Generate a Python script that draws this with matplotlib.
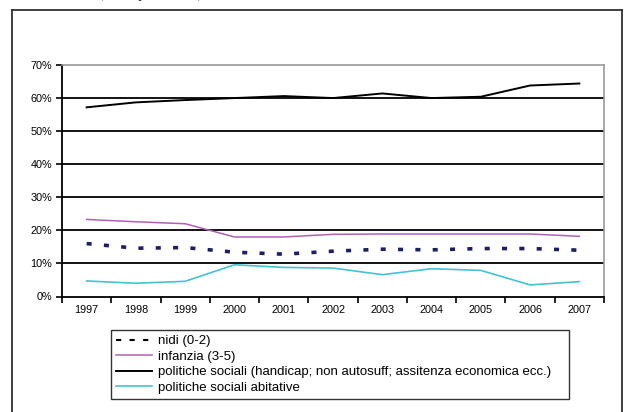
import matplotlib.pyplot as plt
from matplotlib.lines import Line2D
import numpy as np

plt.rcParams["font.family"] = ["Liberation Sans", "DejaVu Sans"]

years = ["1997", "1998", "1999", "2000", "2001", "2002", "2003", "2004", "2005", "2006", "2007"]
nidi = [16.0, 14.6, 14.8, 13.4, 12.8, 13.7, 14.3, 14.1, 14.5, 14.5, 14.0]
infanzia = [23.3, 22.6, 22.0, 18.0, 18.0, 18.8, 18.9, 18.9, 18.9, 18.9, 18.2]
politiche = [57.2, 58.7, 59.4, 60.0, 60.6, 60.0, 61.4, 60.0, 60.4, 63.8, 64.4]
abitative = [4.7, 4.0, 4.6, 9.6, 8.8, 8.6, 6.6, 8.4, 7.9, 3.5, 4.5]

labels = [
    "nidi (0-2)",
    "infanzia (3-5)",
    "politiche sociali (handicap; non autosuff; assitenza economica ecc.)",
    "politiche sociali abitative",
]
y_ticks = [0, 10, 20, 30, 40, 50, 60, 70]

W, H = 627, 412
fig = plt.figure(figsize=(W / 100, H / 100), dpi=100)
fig.patch.set_facecolor("white")

# outer frame around the whole chart (open at the bottom)
fx0, fx1, fy1 = 12 / W, 622 / W, 1 - 10 / H
for xs, ys in [((fx0, fx0), (-0.1, fy1)), ((fx0, fx1), (fy1, fy1)), ((fx1, fx1), (fy1, -0.1))]:
    fig.add_artist(Line2D(xs, ys, color="#303030", lw=1.3, transform=fig.transFigure))

# caption of the table above, cut off by the page edge: only descenders show
fig.text(152 / W, 1 + 2.0 / H, "(valori percentuali)", ha="center", va="baseline",
         fontsize=9.5, style="italic", family="Liberation Serif")

ax = fig.add_axes([62 / W, 1 - 296.5 / H, (604 - 62) / W, (296.5 - 65) / H])
x = np.arange(len(years))

ax.set_ylim(0, 70)
ax.set_xlim(-0.5, len(years) - 0.5)
ax.set_yticks(y_ticks)
ax.set_yticklabels([f"{v}%" for v in y_ticks], fontsize=7.8)
ax.set_xticks(x)
ax.set_xticklabels(years, fontsize=7.8)
ax.set_xticks(np.arange(-0.5, len(years)), minor=True)
ax.tick_params(axis="x", which="major", length=0, pad=6)
ax.tick_params(axis="x", which="minor", length=4, width=1.2, direction="out")
ax.tick_params(axis="y", length=4, width=1.2, direction="out", pad=3)

for v in y_ticks[1:-1]:
    ax.axhline(v, color="black", lw=1.3, zorder=1)

for side in ("left", "bottom"):
    ax.spines[side].set_color("black")
    ax.spines[side].set_linewidth(1.3)
for side in ("top", "right"):
    ax.spines[side].set_color("#9a9a9a")
    ax.spines[side].set_linewidth(1.2)

ax.plot(x, nidi, color="#1e1e64", lw=2.6, linestyle=(0, (1.4, 3.4)), label=labels[0], zorder=3)
ax.plot(x, infanzia, color="#b060b4", lw=1.1, label=labels[1], zorder=3)
ax.plot(x, politiche, color="black", lw=1.4, label=labels[2], zorder=3)
ax.plot(x, abitative, color="#44c2d2", lw=1.2, label=labels[3], zorder=3)

handles, lbls = ax.get_legend_handles_labels()
leg = fig.legend(handles, lbls, loc="upper left",
                 bbox_to_anchor=(111 / W, 1 - 334 / H, (569 - 111) / W, 0.01),
                 mode="expand", borderaxespad=0, fontsize=9.5, frameon=True,
                 fancybox=False, edgecolor="black", handlelength=2.7,
                 handletextpad=0.45, labelspacing=0.25, borderpad=0.4)
leg.get_frame().set_linewidth(1.0)
leg.legend_handles[0].set_linewidth(1.5)
leg.legend_handles[0].set_color("black")
leg.legend_handles[0].set_linestyle((0, (2.5, 4)))

fig.savefig("out.png", dpi=100, facecolor="white")
